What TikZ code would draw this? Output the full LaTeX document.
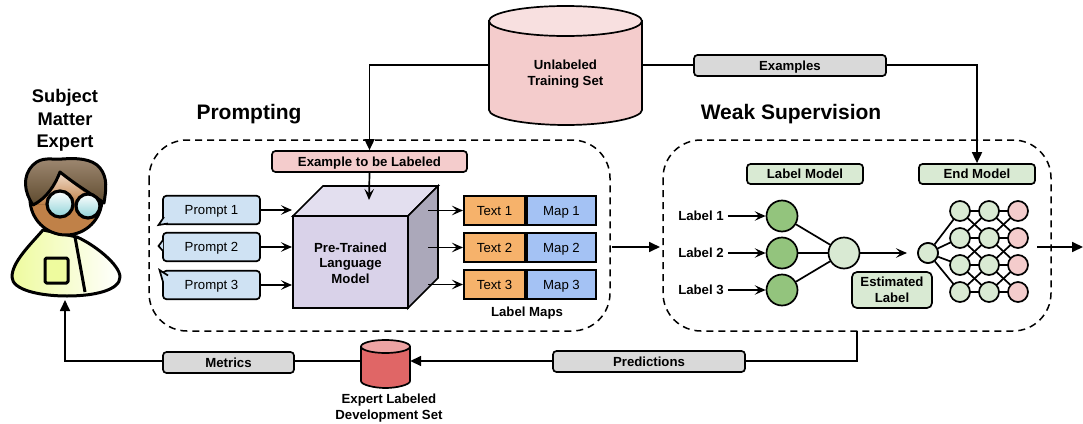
\documentclass[tikz,border=0pt]{standalone}
\usepackage{fontspec}
\setmainfont{Liberation Sans}
\usetikzlibrary{arrows.meta,calc}
\definecolor{pinkf}{HTML}{F4CCCC}
\definecolor{pinkt}{HTML}{F8E0E0}
\definecolor{redf}{HTML}{E06666}
\definecolor{redt}{HTML}{EDA3A3}
\definecolor{greenl}{HTML}{D9EAD3}
\definecolor{greend}{HTML}{93C47D}
\definecolor{bluel}{HTML}{CFE2F3}
\definecolor{blued}{HTML}{A4C2F4}
\definecolor{orangef}{HTML}{F6B26B}
\definecolor{purf}{HTML}{D9D2E9}
\definecolor{purt}{HTML}{E3DFEF}
\definecolor{purs}{HTML}{ABA8BA}
\definecolor{greyf}{HTML}{D9D9D9}
\definecolor{skin}{HTML}{C08148}
\definecolor{skinl}{HTML}{EFD8C4}
\definecolor{hairl}{HTML}{A18B74}
\definecolor{haird}{HTML}{5E4A2E}
\definecolor{shirt}{HTML}{EEFB9E}
\definecolor{lens}{HTML}{8FD3D8}
\tikzset{
  x=1pt,y=-1pt,
  line/.style={line width=1.7pt,draw=black},
  tipopen/.style={-{Stealth[length=11pt,width=9.5pt,inset=4.5pt]}},
  tipfull/.style={-{Stealth[length=11pt,width=10pt,inset=0pt]}},
  conn/.style={line,tipopen},
  connf/.style={line,tipfull},
  dashbox/.style={line width=1.5pt,draw=black,dash pattern=on 7pt off 5pt,rounded corners=38pt},
  box/.style={line,rounded corners=3.5pt,minimum height=#1,inner sep=0pt,align=center,anchor=center},
  box/.default=21pt,
  one/.style={text height=9.5pt,text depth=0pt},
  bold/.style={inner sep=0pt,align=center,font=\fontsize{13.2}{16}\bfseries\selectfont},
  tx/.style={font=\fontsize{13.2}{15}\selectfont},
  bigt/.style={inner sep=0pt,font=\fontsize{21}{25}\bfseries\selectfont},
  sq/.style={line,line width=2pt,minimum height=29pt,inner sep=0pt,anchor=center},
  ncirc/.style={circle,line,minimum size=#1,inner sep=0pt},
  pen/.style={line width=3pt,line join=round},
}
\begin{document}
\begin{tikzpicture}
\useasboundingbox (0,0) rectangle (1083,423);
% dashed frames
\draw[dashbox] (149,140) rectangle (610,331);
\draw[dashbox] (663,140) rectangle (1051,331);
% titles
\node[bigt] (ttlP) at (249,114.5) {Prompting};
\node[bigt] (ttlW) at (791,114.5) {Weak Supervision};
\node[inner sep=0pt,align=center,font=\fontsize{18.3}{22.5}\bfseries\selectfont] (sme) at (65,120.5) {Subject\\Matter\\Expert};
% person
\draw[pen,left color=shirt,right color=white]
  (43,230) .. controls (30,245) and (12,262) .. (12,277)
  .. controls (12,290) and (40,296) .. (67,296)
  .. controls (95,296) and (120,290) .. (120,277)
  .. controls (120,265) and (95,245) .. (77,237) -- cycle;
\draw[pen] (75,237) -- (85,292);
\draw[pen,fill=shirt,rounded corners=1.5pt] (45,258) rectangle (68,283);
\draw[pen,fill=skin] (66,199) circle (36);
\fill[top color=skinl,bottom color=skin] (60,174) -- (36,204) -- (100,204) -- cycle;
\draw[pen,top color=hairl,bottom color=haird]
  (33,205) .. controls (24,192) and (22,176) .. (33,165)
  .. controls (42,156) and (52,160) .. (62,159)
  .. controls (75,158) and (92,158) .. (100,168)
  .. controls (108,178) and (106,190) .. (104,203)
  .. controls (95,196) and (80,188) .. (60,172)
  .. controls (55,185) and (47,198) .. (33,205) -- cycle;
\foreach \cx/\cy/\r in {60/204/13,88/206/12}{
  \draw[line width=3.2pt,top color=white,bottom color=lens] (\cx,\cy) circle (\r);
}
% unlabeled cylinder
\draw[line,fill=pinkf] (489,21) -- (489,110) .. controls (489,118) and (525,125) .. (566,125) .. controls (607,125) and (642,118) .. (642,110) -- (642,21) -- cycle;
\draw[line,fill=pinkt] (565.5,21) ellipse (76.5 and 15);
\node[bold] (train) at (565.5,74) {Unlabeled\\Training Set};
\coordinate (trainL) at (489,65);
\coordinate (trainR) at (642,65);
% connectors top
\node[box,one,fill=pinkf,minimum width=195pt,bold] (ex) at (369.5,161.5) {Example to be Labeled};
\node[box,one,fill=greenl,minimum width=116pt,minimum height=20pt,bold] (lm) at (805,174) {Label Model};
\node[box,one,fill=greenl,minimum width=116pt,minimum height=20pt,bold] (em) at (977,174) {End Model};
\draw[connf] (trainL) -| (ex.north);
\draw[connf] (trainR) -| (em.north);
\node[box,one,fill=greyf,minimum width=192pt,bold] (examples) at (790,65.5) {Examples};
% cube
\draw[line,fill=purt] (293,216) -- (323,186) -- (438,186) -- (408,216) -- cycle;
\draw[line,fill=purs] (408,216) -- (438,186) -- (438,278) -- (408,308) -- cycle;
\node[line,fill=purf,minimum width=115pt,minimum height=92pt,inner sep=0pt] (ptm) at (350.5,262) {};
\node[inner sep=0pt,align=center,font=\fontsize{13.2}{15.5}\bfseries\selectfont] (ptmt) at (350.5,263) {Pre-Trained\\Language\\Model};
\coordinate (cubeTop) at (369,200);
\draw[conn] (ex.south) -- (cubeTop);
% prompts
\foreach \i/\y in {1/210,2/247,3/285}{
  \node[box=28.5pt,one,fill=bluel,minimum width=97pt,tx] (p\i) at (211.5,\y) {Prompt \i};
  \coordinate (pa\i) at (292,\y);
  \draw[conn] (p\i.east) -- (pa\i);
}
\draw[line,fill=bluel] (164,217) -- (158.5,225) -- (168,223.5);
\draw[line,fill=bluel] (163,251) -- (158.5,246) -- (163,240);
\draw[line,fill=bluel] (168,275.5) -- (159.5,270) -- (163,282);
% label maps
\foreach \i/\y in {1/210.5,2/247.5,3/284.5}{
  \node[sq,one,fill=orangef,minimum width=61pt,tx] (t\i) at (494.5,\y) {Text \i};
  \node[sq,one,fill=blued,minimum width=69pt,tx] (m\i) at (561.5,\y) {Map \i};
  \coordinate (ca\i) at (428,\y);
  \draw[conn] (ca\i) -- (t\i.west);
}
\node[bold] (lmaps) at (527,313) {Label Maps};
\coordinate (pO) at (612,247);
\coordinate (wI) at (660,247);
\draw[connf] (pO) -- (wI);
% label model
\foreach \i/\y in {1/216,2/253,3/290}{
  \node[ncirc=31pt,fill=greend] (lc\i) at (782,\y) {};
  \node[bold,one] (ll\i) at (701,\y) {Label \i};
  \draw[conn] (ll\i.east) ++(4,0) -- (lc\i.west);
}
\node[ncirc=31pt,fill=greenl] (lo) at (844,253) {};
\foreach \i in {1,2,3}{\draw[line] (lc\i) -- (lo);}
\node[box=36pt,fill=greenl,minimum width=80pt,bold,rounded corners=5pt] (est) at (892,290) {Estimated\\Label};
% end model
\node[ncirc=20pt,fill=greenl] (n0) at (928,253) {};
\coordinate (n0w) at (907,253);
\draw[conn] (lo.east) -- (n0w);
\foreach \c/\x in {1/960,2/989,3/1018}{
  \foreach \r/\y in {1/211,2/238,3/265,4/292}{
    \coordinate (n\c\r) at (\x,\y);
  }
}
\foreach \r in {1,2,3,4}{\draw[line] (n0) -- (n1\r);}
\foreach \a/\b in {1/1,1/2,2/1,2/2,2/3,3/2,3/3,3/4,4/3,4/4}{
  \draw[line] (n1\a) -- (n2\b);
  \draw[line] (n2\a) -- (n3\b);
}
\foreach \c in {1,2,3}{\foreach \r in {1,2,3,4}{
  \ifnum\c=3 \node[ncirc=20pt,fill=pinkf] (c\c\r) at (n\c\r) {};
  \else \node[ncirc=20pt,fill=greenl] (c\c\r) at (n\c\r) {}; \fi
}}
\node[ncirc=20pt,fill=greenl] (n0top) at (n0) {};
\coordinate (outS) at (1037,247);
\coordinate (outE) at (1083,247);
\draw[connf] (outS) -- (outE);
% bottom
\draw[line,fill=redf] (361,347) -- (361,381) .. controls (361,385) and (375,388) .. (385.5,388) .. controls (396,388) and (410,385) .. (410,381) -- (410,347) -- cycle;
\draw[line,fill=redt] (385.5,346.5) ellipse (24.5 and 6.5);
\node[inner sep=0pt,minimum width=49pt,minimum height=42pt] (dev) at (385.5,361) {};
\node[bold] (devt) at (389,408) {Expert Labeled\\Development Set};
\coordinate (wB) at (857,331);
\draw[connf] (wB) |- (dev.east);
\node[box,one,fill=greyf,minimum width=192pt,bold] (pred) at (649,361.5) {Predictions};
\coordinate (smeB) at (65,300);
\draw[connf] (dev.west) -| (smeB);
\node[box,one,fill=greyf,minimum width=131pt,bold] (met) at (228.5,362.5) {Metrics};
\end{tikzpicture}
\end{document}
